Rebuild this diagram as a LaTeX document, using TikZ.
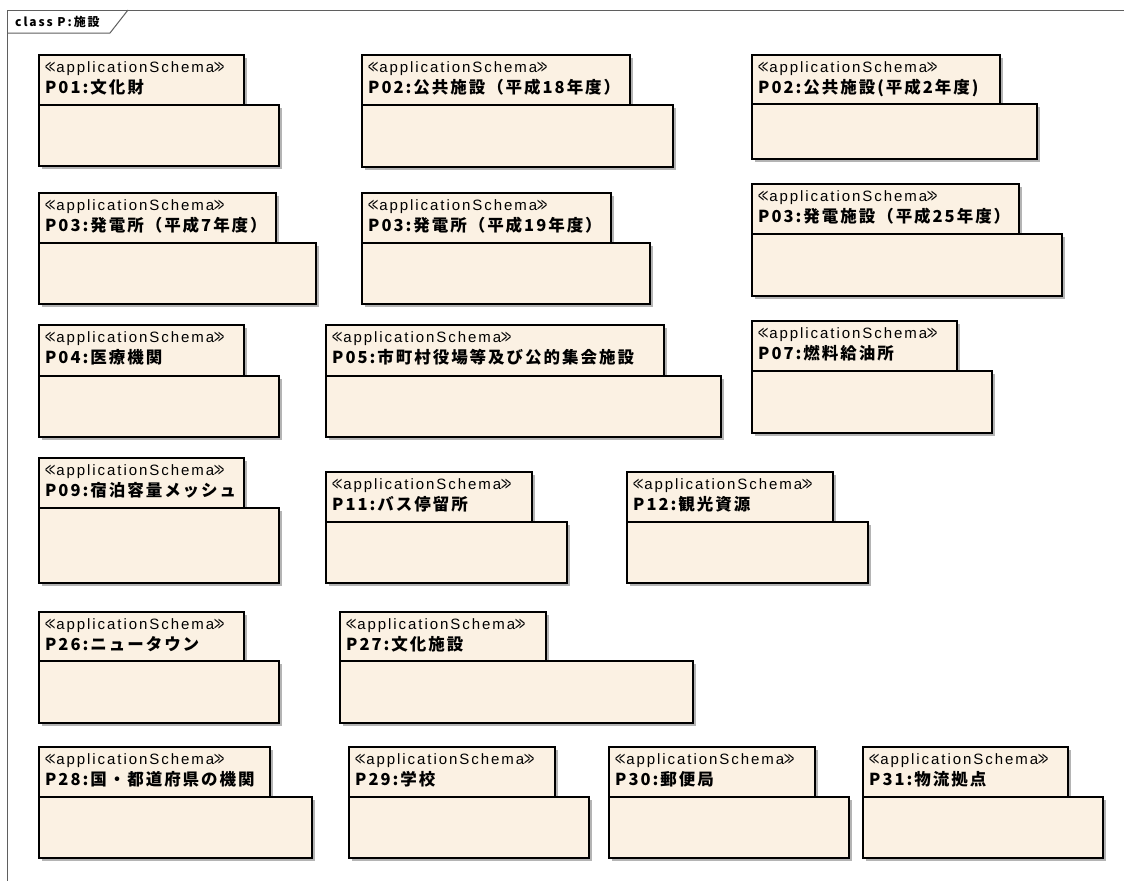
\documentclass[tikz,border=0pt]{standalone}
\usepackage{graphicx}
\usepackage{fontspec}
\newfontfamily\stfont{Liberation Sans}[LetterSpace=13]
\newfontfamily\ttlfont{Noto Sans CJK JP}[LetterSpace=12]
\newfontfamily\frmfont{Noto Sans CJK JP}[LetterSpace=16]
\definecolor{pkgfill}{RGB}{251,241,227}
\definecolor{shadowc}{RGB}{180,180,180}
\definecolor{framec}{RGB}{95,95,95}
\newcommand\stchl{\raisebox{-1.2pt}{\scalebox{0.7}[1.3]{<}}}
\newcommand\stchr{\raisebox{-1.2pt}{\scalebox{0.7}[1.3]{>}}}
\newcommand\sttag{\stchl\kern-2.2pt\stchl\kern1pt applicationSchema\stchr\kern-2.2pt\stchr}
\tikzset{
  pkgline/.style={draw=black, line width=1.2pt, fill=pkgfill},
  shadowfill/.style={fill=shadowc, draw=none},
  sttext/.style={anchor=base west, inner sep=0pt, font=\stfont\fontsize{15}{17}\selectfont},
  titletext/.style={anchor=base west, inner sep=0pt, font=\ttlfont\bfseries\fontsize{16.5}{19}\selectfont},
  frametext/.style={anchor=base west, inner sep=0pt, font=\frmfont\bfseries\fontsize{12}{14}\selectfont},
  frameline/.style={draw=framec, line width=1pt},
}
% id, x, y(tab top), tab right, tab bottom, body right, body bottom, title
\newcommand\pkgdraw[8]{%
  \path[shadowfill] (#2+3,#5+3) rectangle (#6+3,#7+3);
  \path[shadowfill] (#2+3,#3+3) rectangle (#4+3,#5+3);
  \path[pkgline] (#2,#5) rectangle (#6,#7);
  \path[pkgline] (#2,#3) rectangle (#4,#5);
  \node[sttext] (#1s) at (#2+6,#3+17) {\sttag};
  \node[titletext] (#1t) at (#2+6,#3+38) {#8};
}
\begin{document}
\begin{tikzpicture}[x=1pt,y=-1pt]
\useasboundingbox[fill=white] (0,0) rectangle (1124,881);
% frame
\draw[frameline] (1124,10) -- (7,10) -- (7,881);
\draw[frameline] (7,33) -- (110,33) -- (128,10);
\node[frametext] (frame) at (15,26) {class P:施設};
% packages
\pkgdraw{p01}{39}{55}{244}{105}{279}{166}{P01:文化財}
\pkgdraw{p02a}{362}{55}{630}{105}{673}{167}{P02:公共施設（平成18年度）}
\pkgdraw{p02b}{752}{55}{1000}{104}{1037}{159}{P02:公共施設(平成2年度)}
\pkgdraw{p03a}{39}{193}{276}{243}{316}{304}{P03:発電所（平成7年度）}
\pkgdraw{p03b}{362}{193}{611}{243}{650}{304}{P03:発電所（平成19年度）}
\pkgdraw{p03c}{752}{184}{1019}{234}{1062}{296}{P03:発電施設（平成25年度）}
\pkgdraw{p04}{39}{325}{244}{376}{279}{437}{P04:医療機関}
\pkgdraw{p05}{326}{325}{664}{376}{721}{437}{P05:市町村役場等及び公的集会施設}
\pkgdraw{p07}{752}{321}{957}{371}{992}{433}{P07:燃料給油所}
\pkgdraw{p09}{39}{458}{244}{508}{279}{583}{P09:宿泊容量メッシュ}
\pkgdraw{p11}{326}{472}{532}{522}{567}{583}{P11:バス停留所}
\pkgdraw{p12}{627}{472}{833}{522}{868}{583}{P12:観光資源}
\pkgdraw{p26}{39}{612}{244}{661}{279}{723}{P26:ニュータウン}
\pkgdraw{p27}{340}{612}{546}{661}{693}{723}{P27:文化施設}
\pkgdraw{p28}{39}{747}{270}{797}{312}{858}{P28:国・都道府県の機関}
\pkgdraw{p29}{349}{747}{555}{797}{589}{858}{P29:学校}
\pkgdraw{p30}{609}{747}{815}{797}{849}{858}{P30:郵便局}
\pkgdraw{p31}{863}{747}{1068}{797}{1103}{858}{P31:物流拠点}
\end{tikzpicture}
\end{document}
